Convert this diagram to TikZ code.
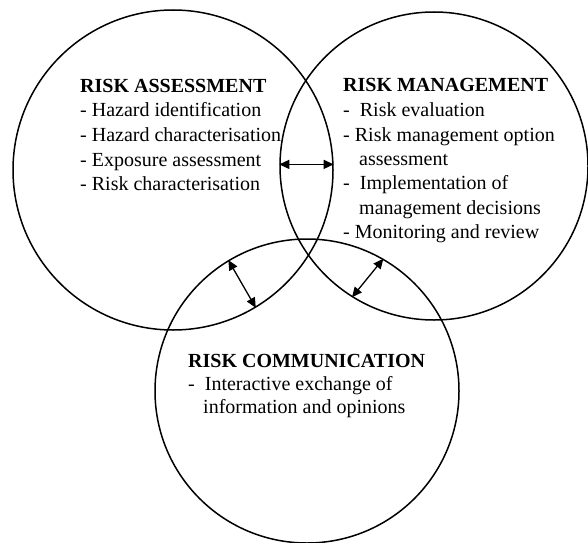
\documentclass[tikz,border=0pt]{standalone}
\usepackage{fontspec}
\setmainfont{Liberation Serif}
\usetikzlibrary{arrows.meta}
\begin{document}
\begin{tikzpicture}[x=1pt,y=1pt,
  zone/.style={draw, circle, line width=1.5pt, inner sep=0pt},
  txt/.style={anchor=base west, inner sep=0pt, font=\fontsize{20}{24}\selectfont},
  head/.style={txt, font=\fontsize{20}{24}\selectfont\bfseries},
  link/.style={{Triangle[length=10pt,width=9pt]}-{Triangle[length=10pt,width=9pt]}, line width=1.3pt}]
\useasboundingbox (0,0) rectangle (588,542);

% the three overlapping domains
\node[zone, minimum size=320pt] (RA) at (173,372) {};
\node[zone, minimum size=308pt] (RM) at (434,376) {};
\node[zone, minimum size=304pt] (RC) at (307,151) {};

% risk assessment
\node[head] (ra0) at (80,449) {RISK ASSESSMENT};
\node[txt]  (ra1) at (80,425) {- Hazard identification};
\node[txt]  (ra2) at (80,401) {- Hazard characterisation};
\node[txt]  (ra3) at (80,376) {- Exposure assessment};
\node[txt]  (ra4) at (80,352) {- Risk characterisation};

% risk management
\node[head] (rm0) at (343,450) {RISK MANAGEMENT};
\node[txt]  (rm1) at (343,426) {-\ \ Risk evaluation};
\node[txt]  (rm2) at (343,401) {- Risk management option};
\node[txt]  (rm3) at (359,377) {assessment};
\node[txt]  (rm4) at (343,353) {-\ \ Implementation of};
\node[txt]  (rm5) at (359,328) {management decisions};
\node[txt]  (rm6) at (343,304) {- Monitoring and review};

% risk communication
\node[head] (rc0) at (188,175) {RISK COMMUNICATION};
\node[txt]  (rc1) at (188,152) {-\ \ Interactive exchange of};
\node[txt]  (rc2) at (203,129) {information and opinions};

% two-way links across the overlaps
\draw[link] (RA.2) -- (RA.2 -| RM.west);
\draw[link] (RC.121.5) -- (RA.301.5);
\draw[link] (RC.60.8) -- (RM.238.5);
\end{tikzpicture}
\end{document}
